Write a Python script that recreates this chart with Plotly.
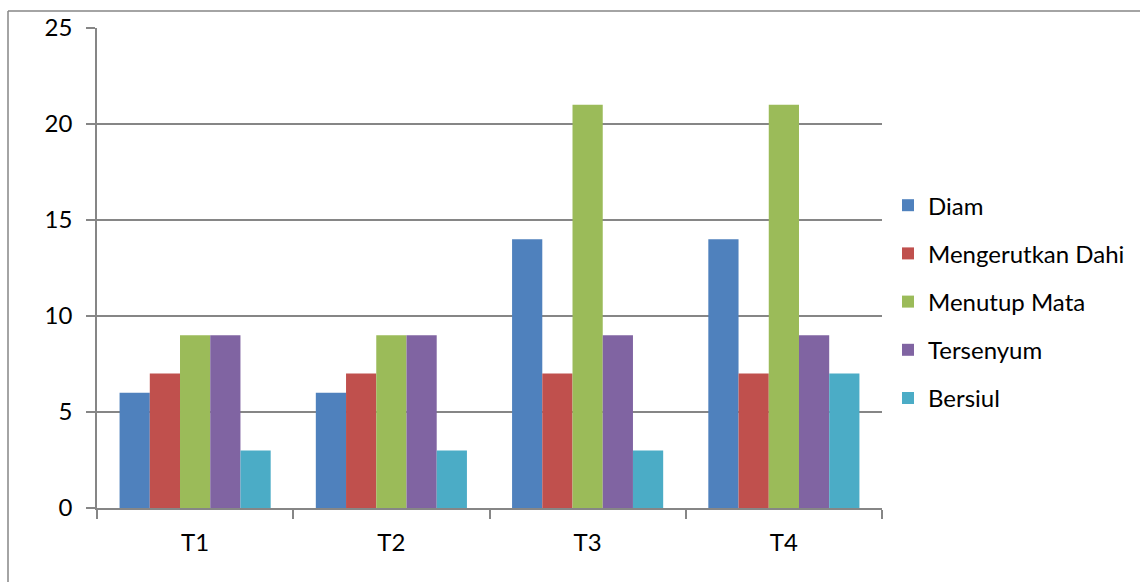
import plotly.graph_objects as go

categories = ["T1", "T2", "T3", "T4"]
series_names = ["Diam", "Mengerutkan Dahi", "Menutup Mata", "Tersenyum", "Bersiul"]
diam = [6, 6, 14, 14]
mengerutkan_dahi = [7, 7, 7, 7]
menutup_mata = [9, 9, 21, 21]
tersenyum = [9, 9, 9, 9]
bersiul = [3, 3, 3, 7]
colors = ["#4F81BD", "#C0504D", "#9BBB59", "#8064A2", "#4BACC6"]
y_ticks = [0, 5, 10, 15, 20, 25]

values = [diam, mengerutkan_dahi, menutup_mata, tersenyum, bersiul]

fig = go.Figure()
for i, (name, vals, col) in enumerate(zip(series_names, values, colors)):
    fig.add_trace(go.Bar(x=categories, y=vals, name=name, marker_color=col,
                         marker_line_width=0, legendgroup=f"g{i}"))

fig.update_layout(
    width=1140, height=582,
    margin=dict(l=97, r=258, t=28, b=74, autoexpand=False),
    paper_bgcolor="white", plot_bgcolor="white",
    barmode="group", bargap=0.23, bargroupgap=0,
    font=dict(family="Lato, Carlito, sans-serif", size=24, color="black"),
    showlegend=True,
    legend=dict(x=1 + 6/785, xanchor="left", y=0.43, yanchor="middle",
                font=dict(size=24), tracegroupgap=14,
                itemwidth=30, bgcolor="rgba(0,0,0,0)"),
    xaxis=dict(type="category", showline=True, linecolor="#868686", linewidth=1.5,
               ticks="outside", tickson="boundaries", ticklen=9, tickcolor="#868686",
               tickwidth=1.5, showgrid=False, tickfont=dict(size=24),
               ticklabelstandoff=12),
    yaxis=dict(range=[0, 25], tickvals=y_ticks, showline=True, linecolor="#868686",
               linewidth=1.5, ticks="outside", ticklen=9, tickcolor="#868686",
               tickwidth=1.5, showgrid=True, gridcolor="#868686", gridwidth=1.5,
               zeroline=False, tickfont=dict(size=24), ticklabelstandoff=9),
)

# outer chart border (left and top)
fig.add_shape(type="line", xref="paper", yref="paper", x0=-89/785, x1=-89/785,
              y0=-1, y1=(582-11-74)/480, line=dict(color="#868686", width=1.5))
fig.add_shape(type="line", xref="paper", yref="paper", x0=-89/785, x1=2,
              y0=(582-11-74)/480, y1=(582-11-74)/480, line=dict(color="#868686", width=1.5))

fig.write_html("out.html")
